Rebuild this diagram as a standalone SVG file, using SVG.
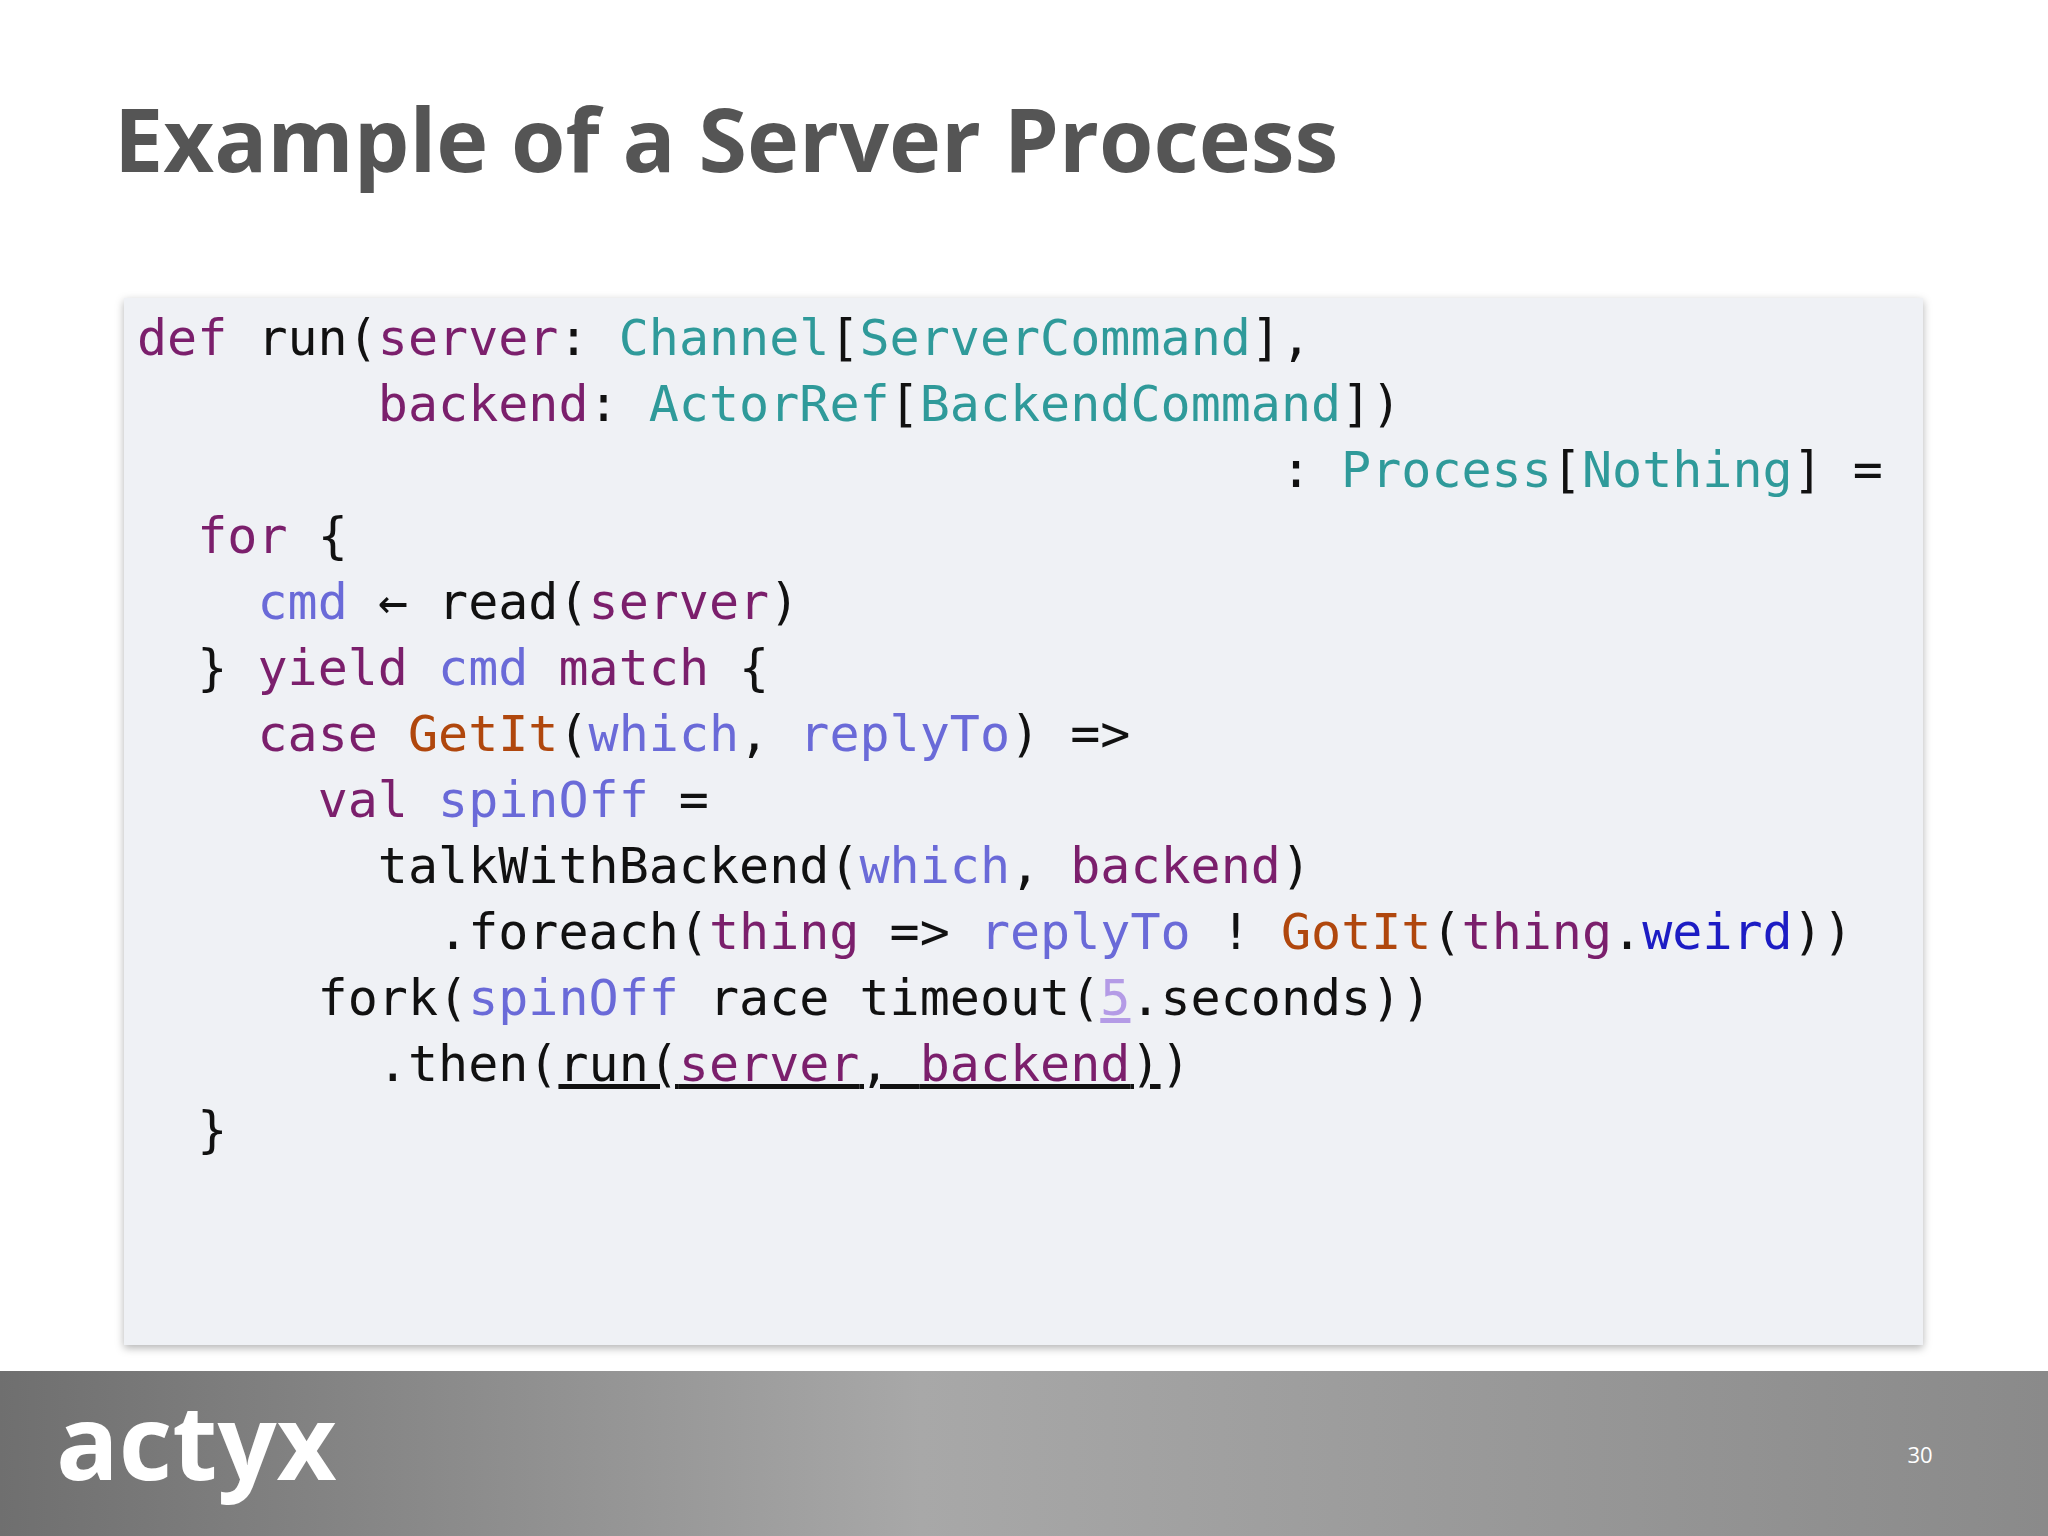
<svg xmlns="http://www.w3.org/2000/svg" width="2048" height="1536" viewBox="0 0 2048 1536">
<defs>
<linearGradient id="foot" x1="0" y1="0" x2="1" y2="0">
<stop offset="0" stop-color="#6f6f6f"/><stop offset="0.45" stop-color="#a8a8a8"/><stop offset="1" stop-color="#8a8a8a"/>
</linearGradient>
<filter id="sh" x="-5%" y="-5%" width="110%" height="110%"><feDropShadow dx="0" dy="3" stdDeviation="4" flood-color="#000" flood-opacity="0.3"/></filter>
<style>
.code{font-family:"DejaVu Sans Mono",monospace;font-size:50px;fill:#111;white-space:pre}
.k{fill:#7b1f6c}.t{fill:#2f9a9a}.v{fill:#6a6ad8}.c{fill:#b0470d}.w{fill:#1c1cc4}.n{fill:#b49be6}
</style>
</defs>
<rect width="2048" height="1536" fill="#ffffff"/>
<text x="114" y="172" font-family="'Open Sans',sans-serif" font-weight="bold" font-size="88" fill="#555555">Example of a Server Process</text>
<g id="codebox">
<rect x="124" y="298" width="1799" height="1047" fill="#eff1f5" filter="url(#sh)"/>
<text class="code" xml:space="preserve">
<tspan x="137" y="355"><tspan class="k">def</tspan> run(<tspan class="k">server</tspan>: <tspan class="t">Channel</tspan>[<tspan class="t">ServerCommand</tspan>],</tspan>
<tspan x="137" y="421">        <tspan class="k">backend</tspan>: <tspan class="t">ActorRef</tspan>[<tspan class="t">BackendCommand</tspan>])</tspan>
<tspan x="137" y="487">                                      : <tspan class="t">Process</tspan>[<tspan class="t">Nothing</tspan>] =</tspan>
<tspan x="137" y="553">  <tspan class="k">for</tspan> {</tspan>
<tspan x="137" y="619">    <tspan class="v">cmd</tspan> ← read(<tspan class="k">server</tspan>)</tspan>
<tspan x="137" y="685">  } <tspan class="k">yield</tspan> <tspan class="v">cmd</tspan> <tspan class="k">match</tspan> {</tspan>
<tspan x="137" y="751">    <tspan class="k">case</tspan> <tspan class="c">GetIt</tspan>(<tspan class="v">which</tspan>, <tspan class="v">replyTo</tspan>) =&gt;</tspan>
<tspan x="137" y="817">      <tspan class="k">val</tspan> <tspan class="v">spinOff</tspan> =</tspan>
<tspan x="137" y="883">        talkWithBackend(<tspan class="v">which</tspan>, <tspan class="k">backend</tspan>)</tspan>
<tspan x="137" y="949">          .foreach(<tspan class="k">thing</tspan> =&gt; <tspan class="v">replyTo</tspan> ! <tspan class="c">GotIt</tspan>(<tspan class="k">thing</tspan>.<tspan class="w">weird</tspan>))</tspan>
<tspan x="137" y="1015">      fork(<tspan class="v">spinOff</tspan> race timeout(<tspan class="n" text-decoration="underline">5</tspan>.seconds))</tspan>
<tspan x="137" y="1081">        .then(<tspan text-decoration="underline">run(<tspan class="k">server</tspan>, <tspan class="k">backend</tspan>)</tspan>)</tspan>
<tspan x="137" y="1147">  }</tspan>
</text>
</g>
<g id="footer">
<rect x="0" y="1371" width="2048" height="165" fill="url(#foot)"/>
<text x="56" y="1480" font-family="'Open Sans',sans-serif" font-weight="bold" font-size="104" fill="#ffffff" letter-spacing="0">actyx</text>
<text x="1920" y="1463" font-family="'Open Sans',sans-serif" font-size="22" fill="#ffffff" text-anchor="middle">30</text>
</g>
</svg>
